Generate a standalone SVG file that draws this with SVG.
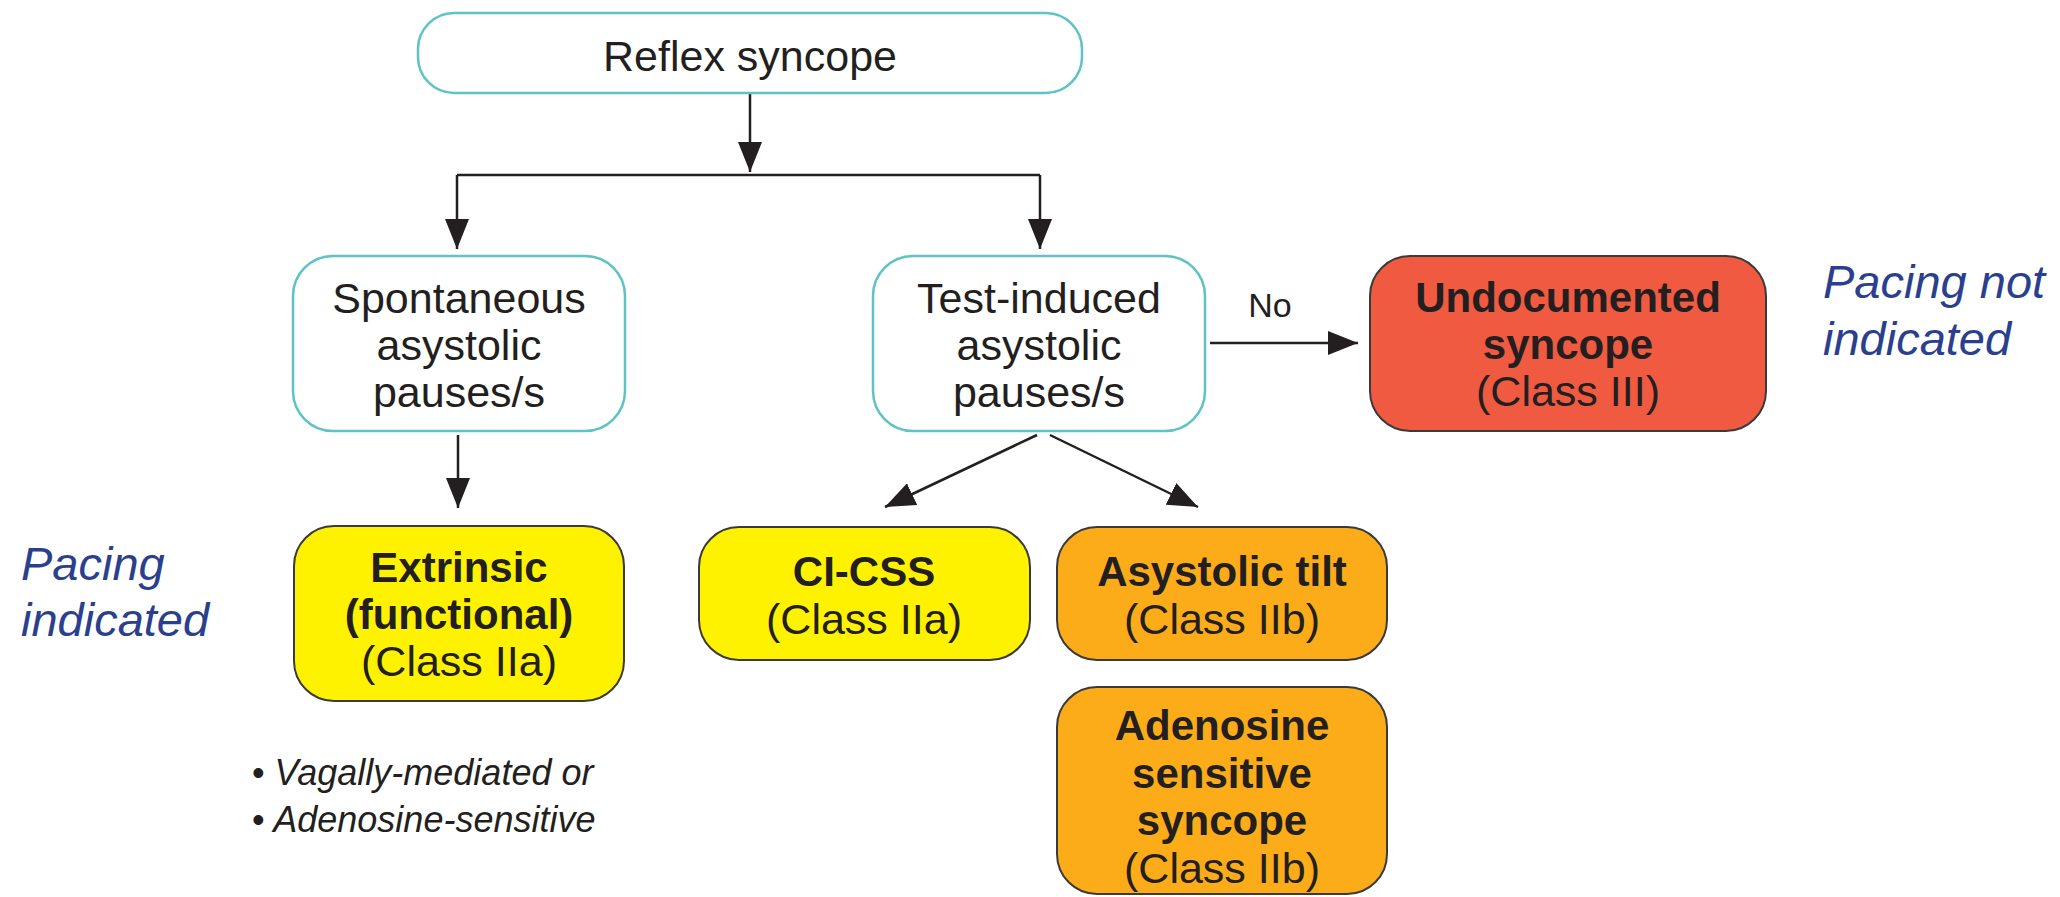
<svg xmlns="http://www.w3.org/2000/svg" width="2060" height="897" viewBox="0 0 2060 897">
<style>
  .t { font-family: "Liberation Sans", Arial, sans-serif; fill: #231f20; text-anchor: middle; }
  .r { font-size: 43px; }
  .b { font-size: 42px; font-weight: bold; }
  .teal { fill: #ffffff; stroke: #5fc3c6; stroke-width: 2.5; }
  .yel { fill: #fff200; stroke: #3a3a3a; stroke-width: 2; }
  .org { fill: #fbac18; stroke: #3a3a3a; stroke-width: 2; }
  .red { fill: #ef5a40; stroke: #3a3a3a; stroke-width: 2; }
  .blue { font-family: "Liberation Sans", Arial, sans-serif; font-style: italic; font-size: 47px; fill: #2b3f8f; }
  .note { font-family: "Liberation Sans", Arial, sans-serif; font-style: italic; font-size: 36px; fill: #231f20; }
  .conn { fill: none; stroke: #231f20; stroke-width: 2.5; }
</style>
<defs>
  <marker id="ah" markerUnits="userSpaceOnUse" markerWidth="30" markerHeight="24" refX="30" refY="12" orient="auto">
    <path d="M0,0 L30,12 L0,24 Z" fill="#231f20"/>
  </marker>
</defs>
<rect width="2060" height="897" fill="#ffffff"/>

<g id="connectors">
  <path class="conn" d="M750,93 V172" marker-end="url(#ah)"/>
  <path class="conn" d="M457,175 H1040"/>
  <path class="conn" d="M457,175 V249" marker-end="url(#ah)"/>
  <path class="conn" d="M1040,175 V249" marker-end="url(#ah)"/>
  <path class="conn" d="M458,435 V508" marker-end="url(#ah)"/>
  <path class="conn" d="M1037,435 L885,507" marker-end="url(#ah)"/>
  <path class="conn" d="M1050,435 L1198,507" marker-end="url(#ah)"/>
  <path class="conn" d="M1210,343 H1358" marker-end="url(#ah)"/>
  <text class="t" x="1270" y="317" font-size="34">No</text>
</g>

<g id="reflex">
  <rect class="teal" x="418" y="13" width="664" height="80" rx="36"/>
  <text class="t r" x="750" y="71">Reflex syncope</text>
</g>

<g id="spontaneous">
  <rect class="teal" x="293" y="256" width="332" height="175" rx="40"/>
  <text class="t r" x="459" y="313">Spontaneous</text>
  <text class="t r" x="459" y="360">asystolic</text>
  <text class="t r" x="459" y="407">pauses/s</text>
</g>

<g id="test-induced">
  <rect class="teal" x="873" y="256" width="332" height="175" rx="40"/>
  <text class="t r" x="1039" y="313">Test-induced</text>
  <text class="t r" x="1039" y="360">asystolic</text>
  <text class="t r" x="1039" y="407">pauses/s</text>
</g>

<g id="undocumented">
  <rect class="red" x="1370" y="256" width="396" height="175" rx="40"/>
  <text class="t b" x="1568" y="312">Undocumented</text>
  <text class="t b" x="1568" y="359">syncope</text>
  <text class="t r" x="1568" y="406">(Class III)</text>
</g>

<g id="pacing-not-indicated">
  <text class="blue" x="1823" y="298">Pacing not</text>
  <text class="blue" x="1823" y="355">indicated</text>
</g>

<g id="pacing-indicated">
  <text class="blue" x="21" y="580">Pacing</text>
  <text class="blue" x="21" y="636">indicated</text>
</g>

<g id="extrinsic">
  <rect class="yel" x="294" y="526" width="330" height="175" rx="40"/>
  <text class="t b" x="459" y="582">Extrinsic</text>
  <text class="t b" x="459" y="629">(functional)</text>
  <text class="t r" x="459" y="676">(Class IIa)</text>
</g>

<g id="ci-css">
  <rect class="yel" x="699" y="527" width="331" height="133" rx="40"/>
  <text class="t b" x="864" y="586">CI-CSS</text>
  <text class="t r" x="864" y="634">(Class IIa)</text>
</g>

<g id="asystolic-tilt">
  <rect class="org" x="1057" y="527" width="330" height="133" rx="40"/>
  <text class="t b" x="1222" y="586">Asystolic tilt</text>
  <text class="t r" x="1222" y="634">(Class IIb)</text>
</g>

<g id="adenosine">
  <rect class="org" x="1057" y="687" width="330" height="207" rx="40"/>
  <text class="t b" x="1222" y="740">Adenosine</text>
  <text class="t b" x="1222" y="788">sensitive</text>
  <text class="t b" x="1222" y="835">syncope</text>
  <text class="t r" x="1222" y="883">(Class IIb)</text>
</g>

<g id="notes">
  <text class="note" x="252" y="785"><tspan font-style="normal">•</tspan> Vagally-mediated or</text>
  <text class="note" x="252" y="832"><tspan font-style="normal">•</tspan> Adenosine-sensitive</text>
</g>
</svg>
